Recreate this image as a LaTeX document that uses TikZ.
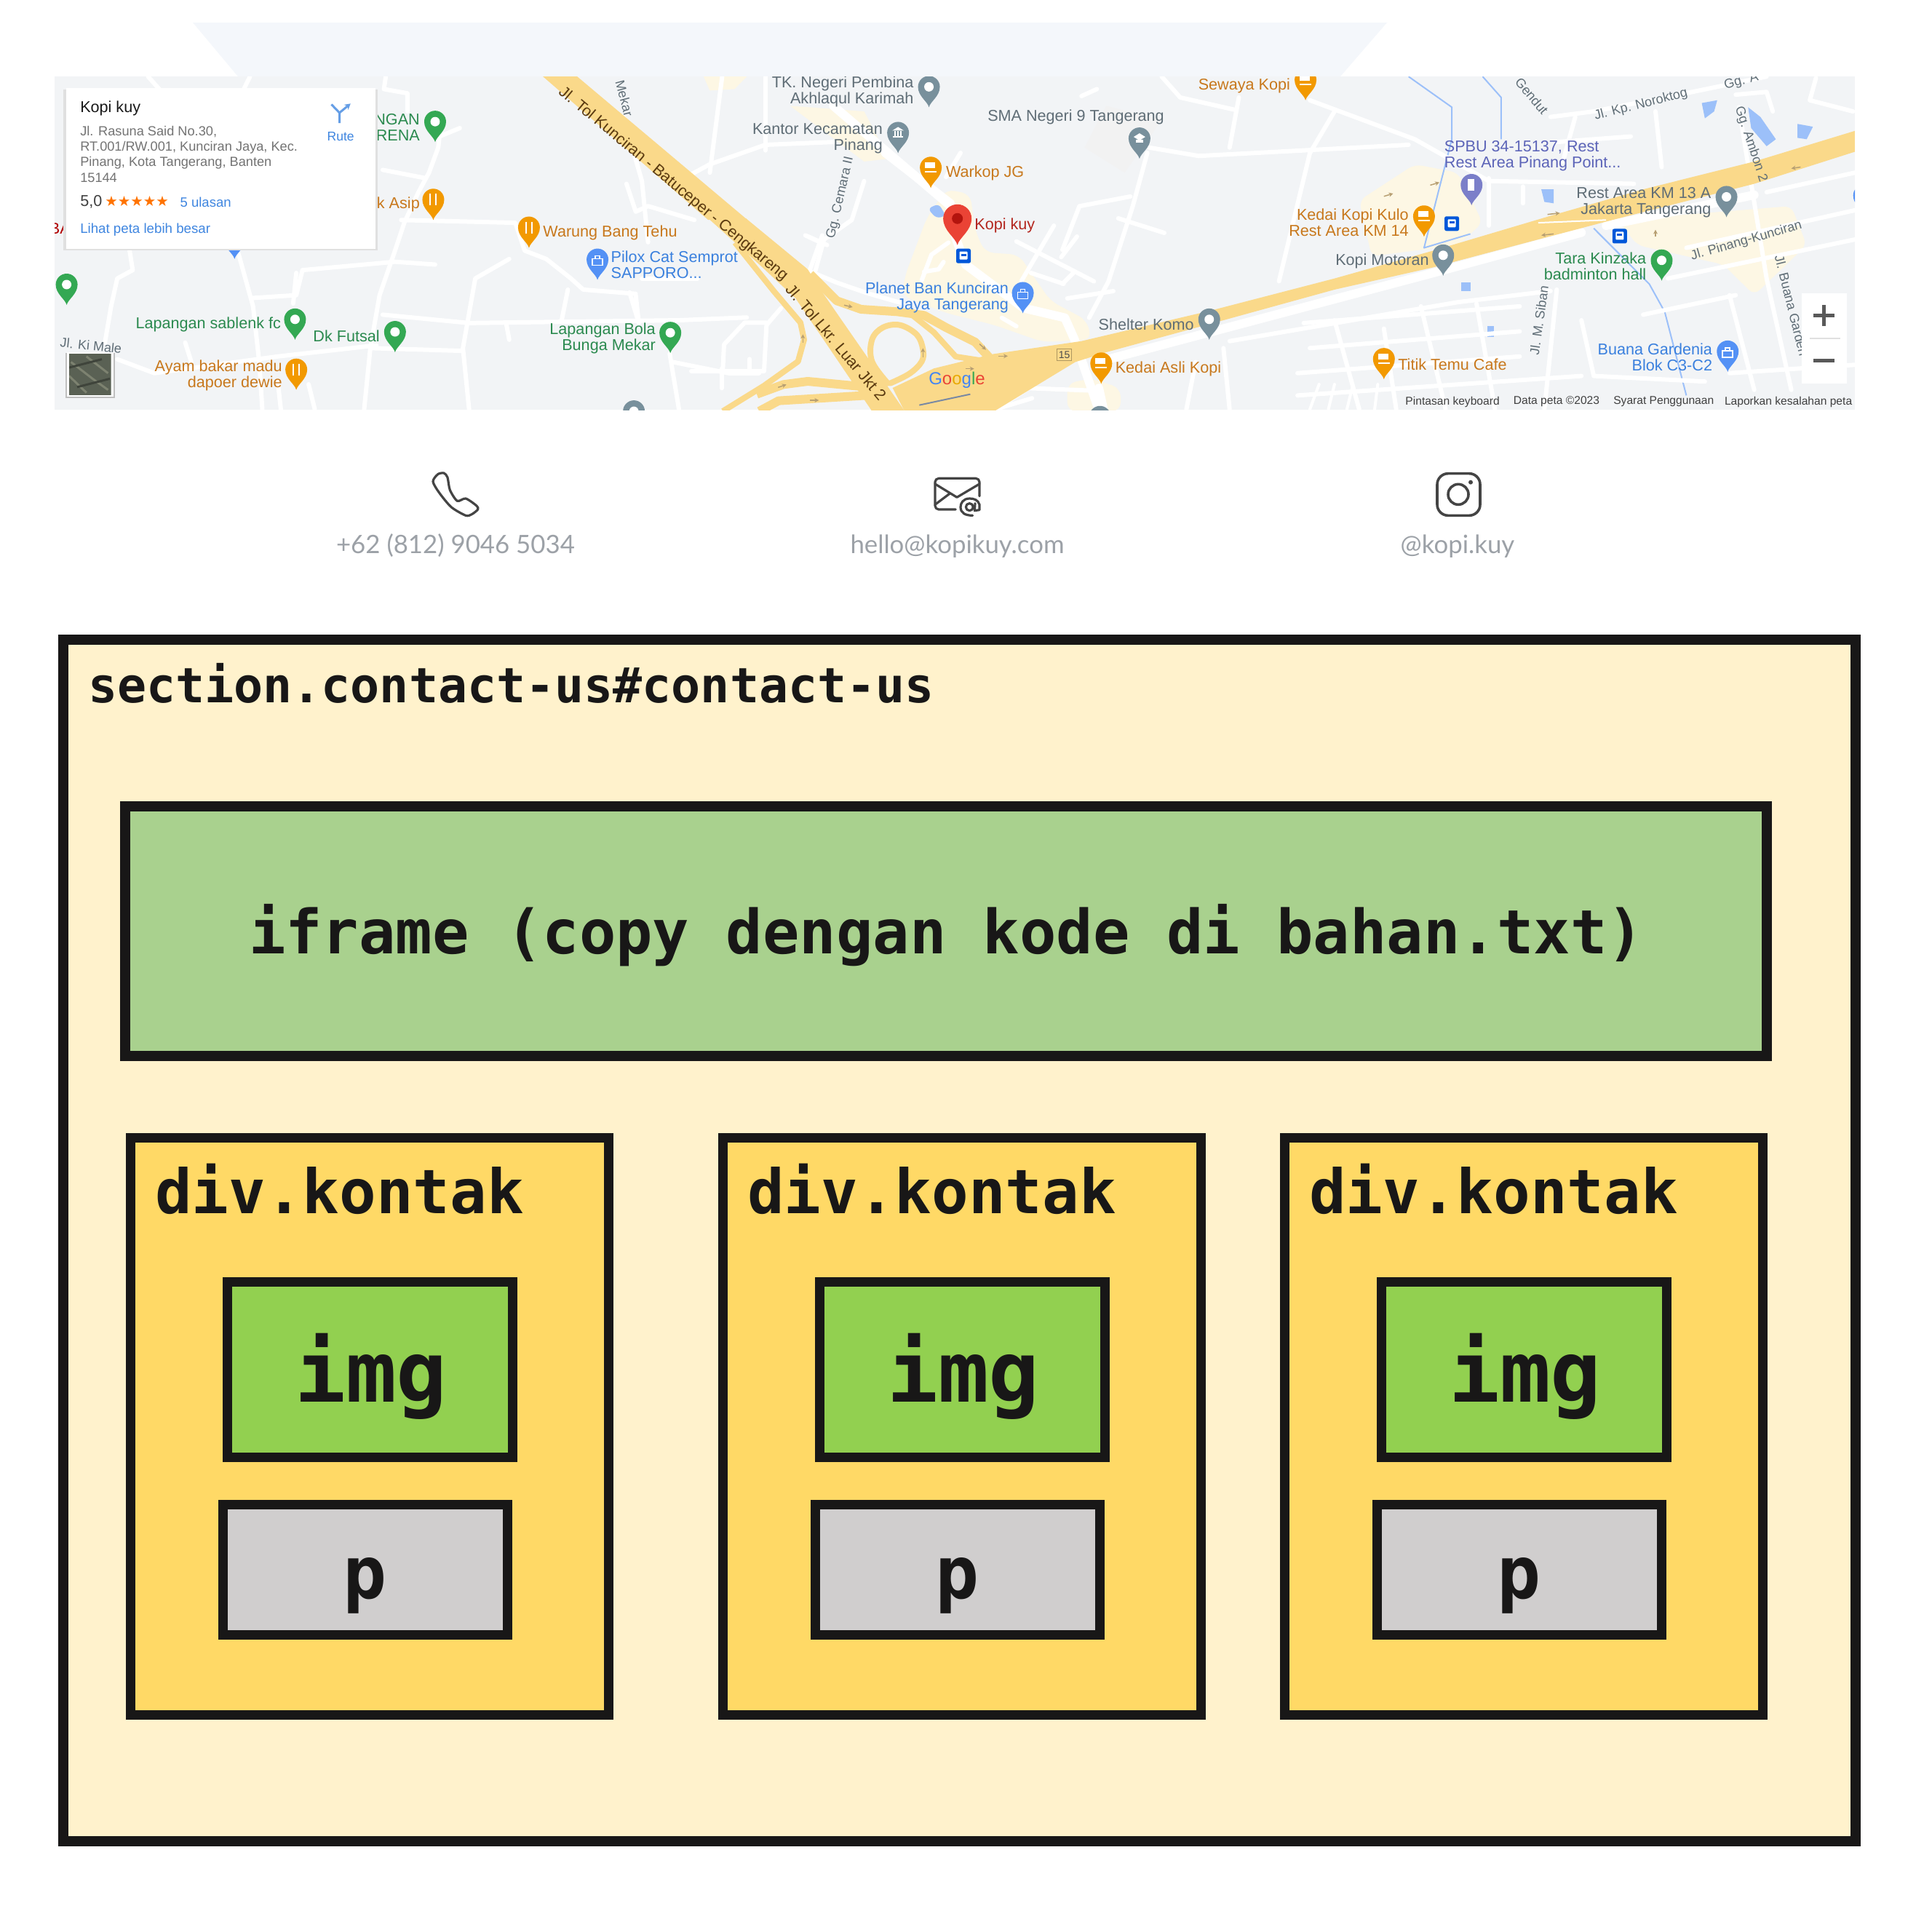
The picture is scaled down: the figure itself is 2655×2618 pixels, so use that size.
\documentclass[tikz,border=0pt]{standalone}
\usepackage{fontspec}
\usetikzlibrary{arrows.meta}
\setmainfont{Liberation Sans}
\newfontfamily\codefont{DejaVu Sans Mono}
\newfontfamily\latofont{Lato}
\newfontfamily\symfont{DejaVu Sans}
\definecolor{ink}{HTML}{181717}
\definecolor{sectionfill}{HTML}{FFF2CC}
\definecolor{iframefill}{HTML}{A9D18E}
\definecolor{divfill}{HTML}{FFD966}
\definecolor{imgfill}{HTML}{92D050}
\definecolor{pfill}{HTML}{D0CECE}
\definecolor{mapbg}{HTML}{F2F4F6}
\definecolor{bandbg}{HTML}{F4F7FB}
\definecolor{cream}{HTML}{FDF7E4}
\definecolor{mway}{HTML}{FAD98A}
\definecolor{flowgray}{HTML}{B79F72}
\definecolor{water}{HTML}{9CC0F9}
\definecolor{pgreen}{HTML}{34A853}
\definecolor{porange}{HTML}{F29900}
\definecolor{pblue}{HTML}{5491F5}
\definecolor{pgray}{HTML}{78909C}
\definecolor{ppurple}{HTML}{7B7FC9}
\definecolor{tgreen}{HTML}{2B8A4F}
\definecolor{torange}{HTML}{C8781C}
\definecolor{tblue}{HTML}{3A80DE}
\definecolor{tgray}{HTML}{5F6D76}
\definecolor{tred}{HTML}{B3261E}
\definecolor{tpurple}{HTML}{5C64B8}
\definecolor{tbrown}{HTML}{5A3A10}
\definecolor{linkblue}{HTML}{3F86E0}
\definecolor{icongray}{HTML}{444444}
\definecolor{contactgray}{HTML}{9CA1A7}
\definecolor{pinred}{HTML}{EA4335}
\definecolor{pindark}{HTML}{B3140E}
\definecolor{gblue}{HTML}{4285F4}
\definecolor{gred}{HTML}{EA4335}
\definecolor{gyellow}{HTML}{E8A800}
\definecolor{ggreen}{HTML}{34A853}
\definecolor{satdark}{HTML}{5A6154}
\definecolor{satlight}{HTML}{7D8270}
\tikzset{
  z1/.style={x=0.8482pt,y=-0.38265pt},
  z2/.style={xshift=1325pt,x=0.8482pt,y=-0.38265pt},
  z7/.style={xshift=1100pt,yshift=-200pt,x=0.33333pt,y=-0.33333pt},
  zt/.style={xshift=950pt,yshift=-300pt,x=0.33333pt,y=-0.33333pt},
  rd/.style={white,line width=6pt,line cap=round,line join=round},
  rdthin/.style={white,line width=4pt,line cap=round,line join=round},
  rdbig/.style={white,line width=12pt,line cap=round,line join=round},
  ramp/.style={mway,line width=12pt,line cap=round,line join=round},
  rampthin/.style={mway,line width=8pt,line cap=round,line join=round},
  river/.style={water,line width=2pt,line join=round},
  flow/.style={-{Stealth[length=6pt,width=6pt]},draw=flowgray,line width=1.5pt},
  lab/.style={inner sep=0pt,outer sep=0pt,font=\fontsize{21.6}{22}\selectfont},
  lr/.style={lab,anchor=east,align=right},
  ll/.style={lab,anchor=west,align=left},
  lc/.style={lab,anchor=center,align=center},
  street/.style={inner sep=0pt,outer sep=0pt,font=\fontsize{18}{19}\selectfont,text=tgray},
  foot/.style={inner sep=0pt,outer sep=0pt,anchor=west,font=\fontsize{15.6}{16}\selectfont,text=black!75},
  code/.style={inner sep=0pt,outer sep=0pt,anchor=base west,text=ink},
  hbox/.style={draw=ink,line width=14pt,inner sep=0pt,outer sep=0pt},
  kbox/.style={draw=ink,line width=13pt,inner sep=0pt,outer sep=0pt},
  contact/.style={inner sep=0pt,outer sep=0pt,anchor=base,text=contactgray,font=\latofont\fontsize{34.8}{38}\selectfont},
  iconline/.style={draw=icongray,line width=3.2pt,line join=round,line cap=round},
}
\newcommand{\glyphdot}{\fill[white] (0,-28) circle (6.5pt);}
\newcommand{\glyphfork}{\draw[white,line width=2pt] (-4,-36)--(-4,-20) (4,-36)--(4,-20);}
\newcommand{\glyphcup}{\fill[white] (-8,-35) rectangle (6,-27); \fill[white] (-8,-23) rectangle (8,-21);}
\newcommand{\glyphbag}{\draw[white,line width=1.6pt] (-7,-29) rectangle (7,-20) (-3,-29) -- (-3,-33) -- (3,-33) -- (3,-29);}
\newcommand{\glyphfuel}{\fill[white] (-5,-36) rectangle (4,-20);}
\newcommand{\glyphschool}{\fill[white] (-8,-30) -- (0,-35) -- (8,-30) -- (0,-25) -- cycle; \fill[white] (-5,-26) rectangle (5,-22);}
\newcommand{\glyphhall}{\fill[white] (-8,-31) -- (0,-36) -- (8,-31) -- cycle; \fill[white] (-7,-23) rectangle (7,-21); \draw[white,line width=2pt] (-4,-30)--(-4,-23) (0,-30)--(0,-23) (4,-30)--(4,-23);}
\newcommand{\mappin}[3]{%
  \begin{scope}[shift={#1},x=1pt,y=-1pt]
    \fill[#2] (0,0) .. controls (-2,-8) and (-15,-15) .. (-15,-28) .. controls (-15,-36.5) and (-8,-43) .. (0,-43) .. controls (8,-43) and (15,-36.5) .. (15,-28) .. controls (15,-15) and (2,-8) .. (0,0) -- cycle;
    \csname glyph#3\endcsname
  \end{scope}}
\newcommand{\redpin}[1]{%
  \begin{scope}[shift={#1},x=1.3pt,y=-1.3pt]
    \fill[pinred] (0,0) .. controls (-2,-8) and (-15,-15) .. (-15,-28) .. controls (-15,-36.5) and (-8,-43) .. (0,-43) .. controls (8,-43) and (15,-36.5) .. (15,-28) .. controls (15,-15) and (2,-8) .. (0,0) -- cycle;
    \fill[pindark] (0,-28) circle (7.5pt);
  \end{scope}}
\newcommand{\busstop}[1]{%
  \begin{scope}[shift={#1},x=1pt,y=-1pt]
    \fill[blue!60!cyan!85!black,rounded corners=2.5pt] (-10,-10) rectangle (10,10);
    \fill[white,rounded corners=1pt] (-5.5,-6) rectangle (5.5,5);
    \fill[blue!60!cyan!85!black] (-3.5,-3) rectangle (3.5,0);
  \end{scope}}
\newcommand{\kontak}[2]{%
  \node[kbox,fill=divfill,minimum width=657pt,minimum height=793pt] (k#1) at (508+#2,1960) {};
  \node[code,font=\codefont\bfseries\fontsize{84.2}{88}\selectfont] (kl#1) at (213+#2,1667) {div.kontak};
  \node[kbox,fill=imgfill,minimum width=392pt,minimum height=241pt] (i#1) at (508.5+#2,1882) {};
  \node[code,anchor=base,font=\codefont\bfseries\fontsize{116}{120}\selectfont] (il#1) at (510+#2,1926) {img};
  \node[kbox,fill=pfill,minimum width=391pt,minimum height=179pt] (p#1) at (502+#2,2157) {};
  \node[code,anchor=base,font=\codefont\bfseries\fontsize{100}{104}\selectfont] (pl#1) at (502+#2,2196) {p};
}
\begin{document}
\begin{tikzpicture}[x=1pt,y=-1pt]
\useasboundingbox (0,0) rectangle (2655,2618);
\fill[white] (0,0) rectangle (2655,2618);

% pale band above the map
\fill[bandbg] (265,31) -- (1906,31) -- (1842,105) -- (327,105) -- cycle;

% ---------- map ----------
\begin{scope}
\clip (75,105) rectangle (2549,563);
\fill[mapbg] (75,105) rectangle (2549,563);

% built-up areas
\begin{scope}[z7]
  \fill[cream,rounded corners=12pt] (430,540) -- (520,300) -- (600,180) -- (700,200) -- (720,350) -- (760,440) -- (900,450) -- (1030,640) -- (1180,720) -- (1200,800) -- (1000,810) -- (800,740) -- (600,690) -- (420,620) -- cycle;
  \fill[cream,rounded corners=12pt] (1100,980) -- (1200,960) -- (1320,1000) -- (1320,1095) -- (1100,1095) -- cycle;
\end{scope}
\begin{scope}[z1]
  \fill[cream] (1140,275) -- (1210,275) -- (1190,320) -- (1150,325) -- cycle;
  \fill[cream] (1280,380) -- (1400,400) -- (1440,570) -- (1400,580) -- cycle;
\end{scope}
\begin{scope}[z2]
  \fill[cream,rounded corners=10pt] (640,720) -- (730,590) -- (800,620) -- (840,800) -- (800,880) -- (660,920) -- cycle;
  \fill[cream,rounded corners=10pt] (1060,790) -- (1340,740) -- (1365,880) -- (1280,1060) -- (1230,950) -- (1090,880) -- cycle;
\end{scope}

% grey building blocks
\begin{scope}[z2]
  \fill[black!5] (195,530) -- (230,380) -- (320,430) -- (260,620) -- cycle;
\end{scope}

% water
\begin{scope}[z2]
  \draw[river] (720,275) -- (790,385) -- (790,500) -- (745,890) -- (820,840);
  \draw[river] (840,275) -- (870,350) -- (870,500);
  \draw[river] (1020,820) -- (1110,1020) -- (1135,1120) -- (1170,1420);
  \fill[water] (1195,370) -- (1220,360) -- (1215,400) -- (1200,425) -- cycle;
  \fill[water] (1270,385) -- (1290,420) -- (1315,500) -- (1300,525) -- (1275,460) -- cycle;
  \fill[water] (1350,445) -- (1375,455) -- (1365,500) -- (1350,495) -- cycle;
  \fill[water] (935,680) -- (955,680) -- (955,730) -- (940,725) -- cycle;
  \fill[water] (805,1015) -- (820,1015) -- (820,1045) -- (805,1045) -- cycle;
  \fill[water] (848,1170) -- (858,1170) -- (858,1210) -- (848,1210) -- cycle;
\end{scope}
\begin{scope}[z7]
  \fill[water,rounded corners=6pt] (525,260) -- (570,240) -- (600,290) -- (560,300) -- cycle;
\end{scope}

% streets, left half
\begin{scope}[z1]
  \draw[rd] (240,275) -- (258,320);
  \draw[rd] (405,275) -- (395,320);
  \draw[rd] (625,275) -- (622,320) -- (660,335) -- (660,400);
  \draw[rd] (745,460) -- (712,490) -- (710,530) -- (695,620) -- (678,690) -- (655,800) -- (640,900) -- (615,1060) -- (600,1250) -- (590,1470);
  \draw[rd] (650,790) -- (835,800) -- (850,900) -- (885,930) -- (925,1000) -- (945,1040) -- (1030,1055);
  \draw[rd] (1010,420) -- (1040,650) -- (1050,870);
  \draw[rd] (1015,660) -- (1030,760) -- (1050,740) -- (1125,790);
  \draw[rd] (385,900) -- (410,1100) -- (420,1300) -- (425,1470);
  \draw[rd] (210,900) -- (215,970) -- (190,1000) -- (180,1100) -- (170,1230);
  \draw[rd] (410,1070) -- (480,1060) -- (490,970) -- (640,940) -- (705,950);
  \draw[rd] (480,980) -- (475,1090);
  \draw[rd] (760,1470) -- (750,1250) -- (770,1000) -- (825,930);
  \draw[rd] (620,1130) -- (760,1160) -- (1100,1150) -- (1210,1140);
  \draw[rd] (920,1040) -- (910,1150);
  \draw[rd] (1020,1050) -- (1035,1160) -- (1030,1060);
  \draw[rd] (1090,1300) -- (1180,1340) -- (1230,1340);
  \draw[rd] (600,1250) -- (750,1260);
  \draw[rd] (190,1290) -- (250,1340) -- (450,1280) -- (610,1240);
  \draw[rd] (450,1370) -- (455,1470);
  \draw[rd] (500,1380) -- (510,1470);
  \draw[rd] (300,1230) -- (310,1300);
  \draw[rd] (1100,650) -- (1150,590) -- (1240,520) -- (1350,510);
  \draw[rd] (1170,275) -- (1150,620);
  \draw[rd] (1240,275) -- (1240,540);
  \draw[rd] (1320,980) -- (1335,860) -- (1380,790) -- (1400,650);
  \draw[rd] (1310,850) -- (1340,880);
  \draw[rd] (620,610) -- (690,640);
  \draw[rd] (820,1160) -- (825,1220);
  \draw[rd] (1100,1470) -- (1085,1270);
  \draw[rd] (1130,1000) -- (1040,1000);
  \draw[rdbig] (1350,380) -- (1450,570) -- (1540,740);
\end{scope}
\begin{scope}[zt]
  \draw[rd] (480,215) -- (600,265) -- (730,310) -- (870,350);
  \draw[rd] (540,70) -- (490,210);
  \draw[rd] (470,70) -- (535,100);
  \draw[rd] (0,630) -- (300,630) -- (310,440) -- (370,370);
  \draw[rd] (125,700) -- (125,620);
  \draw[rd] (130,620) -- (135,520) -- (220,430) -- (310,430);
  \draw[rd] (240,620) -- (240,580);
\end{scope}
\begin{scope}[z7]
  \draw[rdbig] (350,30) -- (620,240) -- (640,380) -- (680,490) -- (920,670) -- (1090,710) -- (1130,800) -- (1230,1090);
  \draw[rd] (500,555) -- (540,450) -- (610,400);
  \draw[rd] (590,480) -- (570,510) -- (510,520);
  \draw[rd] (660,30) -- (600,130);
  \draw[rd] (890,395) -- (1210,560);
  \draw[rd] (1045,330) -- (910,560);
  \draw[rd] (1140,375) -- (1075,460);
  \draw[rd] (950,525) -- (1085,570);
  \draw[rd] (1130,520) -- (1080,570);
  \draw[rd] (1190,710) -- (1270,560) -- (1370,250) -- (1430,30);
  \draw[rd] (1310,300) -- (1500,360);
  \draw[rd] (1150,250) -- (1360,210);
  \draw[rd] (1100,630) -- (1290,600);
  \draw[rd] (1080,430) -- (1150,250);
  \draw[rd] (830,710) -- (890,745);
  \draw[rd] (800,1090) -- (940,1000) -- (1200,1010);
  \draw[rdbig] (1230,1000) -- (1250,1090);
\end{scope}
% streets, right half
\begin{scope}[z2]
  \draw[rd] (320,275) -- (350,350) -- (440,395);
  \draw[rd] (215,320) -- (190,345);
  \draw[rd] (560,360) -- (730,500) -- (850,650) -- (1085,660);
  \draw[rd] (300,530) -- (380,560) -- (720,520);
  \draw[rd] (445,350) -- (430,530);
  \draw[rd] (600,400) -- (560,550) -- (510,1010);
  \draw[rd] (950,420) -- (1020,400) -- (1180,330) -- (1300,275);
  \draw[rd] (990,420) -- (970,580);
  \draw[rd] (1080,490) -- (960,510);
  \draw[rd] (1120,400) -- (1130,600);
  \draw[rd] (1255,385) -- (1300,1000) -- (1340,1400);
  \draw[rd] (1250,340) -- (1300,330) -- (1310,400);
  \draw[rd] (1380,280) -- (1370,360) -- (1440,400);
  \draw[rd] (905,670) -- (905,730);
  \draw[rd] (850,810) -- (850,640);
  \draw[rdbig] (225,1295) -- (760,980) -- (1000,835);
  \draw[rdbig] (1040,810) -- (1280,700);
  \draw[rd] (1170,890) -- (1443,755);
  \draw[rd] (1300,690) -- (1443,620);
  \draw[rd] (1140,1000) -- (1443,860);
  \draw[rd] (430,1225) -- (800,1085) -- (950,1045);
  \draw[rd] (640,1470) -- (600,1150);
  \draw[rd] (700,1470) -- (680,1180);
  \draw[rd] (780,1470) -- (740,1100);
  \draw[rd] (860,1470) -- (830,1090);
  \draw[rd] (550,1160) -- (900,1100);
  \draw[rd] (560,1250) -- (900,1190);
  \draw[rd] (540,1340) -- (900,1280);
  \draw[rd] (540,1420) -- (1000,1350);
  \draw[rdthin] (560,1470) -- (575,1380);
  \draw[rdthin] (590,1470) -- (600,1380);
  \draw[rdthin] (620,1470) -- (630,1380);
  \draw[rdthin] (665,1470) -- (670,1380);
  \draw[rd] (940,1470) -- (960,1040);
  \draw[rd] (1000,1150) -- (1020,1350) -- (1200,1370);
  \draw[rd] (1100,1130) -- (1250,1060);
  \draw[rd] (1240,1340) -- (1443,1310);
  \draw[rd] (1240,1060) -- (1280,1400);
  \draw[rd] (430,1470) -- (420,1250);
  \draw[rd] (360,1470) -- (375,1300);
  \draw[rd] (110,1430) -- (50,1470);
\end{scope}

% motorways
\fill[mway] (746,105) -- (793,105) -- (1027,302) -- (973,302) -- cycle;
\begin{scope}[zt]
  \fill[mway] (70,0) -- (225,0) -- (480,210) -- (530,290) -- (880,795) -- (745,795) -- (430,330) -- (280,190) -- cycle;
  \draw[rampthin,line cap=butt] (180,100) -- (340,300) -- (450,430) -- (465,500) -- (440,590) -- (300,690) -- (130,795);
  \draw[ramp,line cap=butt] (490,230) -- (600,340) -- (700,375) -- (850,385) -- (960,400) -- (1050,450) -- (1170,510) -- (1225,570) -- (1230,640) -- (1200,720) -- (1130,795);
  \draw[rampthin] (900,390) -- (1000,470) -- (1090,570) -- (1220,590);
  \draw[rampthin] plot[smooth,tension=0.6] coordinates {(810,680) (745,590) (745,500) (790,450) (860,440) (930,480) (955,540) (950,590) (900,640) (820,680)};
  \draw[ramp,line cap=butt] (270,725) -- (380,685) -- (480,672) -- (720,695);
  \draw[ramp,line cap=butt] (280,795) -- (360,752) -- (720,730);
\end{scope}
\begin{scope}[z2]
  \fill[mway] (190,1225) -- (400,1115) -- (600,1000) -- (760,900) -- (950,775) -- (1100,680) -- (1280,580) -- (1443,470) -- (1443,545) -- (1280,660) -- (1050,790) -- (930,860) -- (760,960) -- (600,1040) -- (420,1150) -- (230,1265) -- (180,1300) -- (50,1475) -- (-97,1475) -- (-116,1393) -- (-49,1323) -- (45,1272) -- cycle;
  \draw[white,line width=2pt] (930,800) -- (1040,790);
\end{scope}
\begin{scope}[zt]
  \draw[flow] (630,358) -- (665,366);
  \draw[flow] (460,512) -- (460,478);
  \draw[flow] (955,572) -- (955,535);
  \draw[flow] (1188,518) -- (1215,542);
  \draw[flow] (1130,620) -- (1166,620);
  \draw[flow] (358,697) -- (392,685);
  \draw[flow] (490,750) -- (526,750);
  \draw[black!25!water!60!gray,line width=2pt] (940,770) -- (1150,725);
\end{scope}
\begin{scope}[z7]
  \draw[flow] (815,868) -- (855,868);
  \fill[mway,draw=black!30!mway,line width=1pt] (1058,838) rectangle (1118,886);
  \node[inner sep=0pt,font=\fontsize{14}{15}\selectfont,text=black!70] (shield) at (1088,862) {15};
\end{scope}
\begin{scope}[z2]
  \draw[flow] (680,705) -- (695,695);
  \draw[flow] (755,665) -- (770,655);
  \draw[flow] (945,770) -- (965,765);
  \draw[flow] (955,840) -- (935,845);
  \draw[flow] (1355,600) -- (1340,605);
  \draw[flow] (1120,850) -- (1120,825);
\end{scope}

% street names
\node[street,rotate=-39.8,text=tbrown,font=\fontsize{21.6}{22}\selectfont] (tollone) at (925,253) {Jl. Tol Kunciran - Batuceper - Cengkareng};
\node[street,rotate=-49.8,text=tbrown,font=\fontsize{21.6}{22}\selectfont] (tolltwo) at (1149,470) {Jl. Tol Lkr. Luar Jkt 2};
\node[street,rotate=-75] (mekar) at (858,135) {Mekar};
\node[street,rotate=77] (cemara) at (1155,272) {Gg. Cemara II};
\node[street,rotate=14.4] (noroktog) at (2255,144) {Jl. Kp. Noroktog};
\node[street,rotate=-50] (gendut) at (2105,132) {Gendut};
\node[street,rotate=15] (gga) at (2393,112) {Gg. A};
\node[street,rotate=-71.6] (ambon) at (2406,198) {Gg. Ambon 2};
\node[street,rotate=16] (pinang) at (2400,331) {Jl. Pinang-Kunciran};
\node[street,rotate=-76] (buana) at (2462,420) {Jl. Buana Garden};
\node[street,rotate=82] (siban) at (2115,440) {Jl. M. Siban};
\node[street,rotate=-6] (kimale) at (125,475) {Jl. Ki Male};

% pins and labels, left part
\begin{scope}[z1]
  \mappin{(380,930)}{pblue}{dot}
  \mappin{(705,510)}{pgreen}{dot}
  \mappin{(702,790)}{porange}{fork}
  \mappin{(857,890)}{porange}{fork}
  \mappin{(968,1005)}{pblue}{bag}
  \mappin{(1505,385)}{pgray}{dot}
  \mappin{(1455,550)}{pgray}{hall}
  \mappin{(1508,675)}{porange}{cup}
  \mappin{(108,1095)}{pgreen}{dot}
  \mappin{(478,1220)}{pgreen}{dot}
  \mappin{(640,1265)}{pgreen}{dot}
  \mappin{(480,1400)}{porange}{fork}
  \mappin{(1086,1268)}{pgreen}{dot}
  \mappin{(1027,1550)}{pgray}{dot}
  \node[lr,text=tgreen] (arena) at (680,456) {NGAN\\ARENA};
  \node[lr,text=torange] (asip) at (680,735) {k Asip};
  \node[ll,text=red!70!black] (ba) at (80,820) {BA};
  \node[lr,text=tgray] (tk) at (1480,328) {TK. Negeri Pembina\\Akhlaqul Karimah};
  \node[lr,text=tgray] (kantor) at (1430,497) {Kantor Kecamatan\\Pinang};
  \node[ll,text=torange] (bangtehu) at (880,835) {Warung Bang Tehu};
  \node[ll,text=tblue] (pilox) at (990,950) {Pilox Cat Semprot\\SAPPORO...};
  \node[lr,text=tgreen] (sablenk) at (455,1165) {Lapangan sablenk fc};
  \node[lr,text=tgreen] (futsal) at (615,1208) {Dk Futsal};
  \node[lr,text=tgreen] (bola) at (1062,1215) {Lapangan Bola\\Bunga Mekar};
  \node[lr,text=torange] (ayam) at (457,1347) {Ayam bakar madu\\dapoer dewie};
\end{scope}

% pins and labels, middle and right part
\begin{scope}[z2]
  \mappin{(553,360)}{porange}{cup}
  \mappin{(284,570)}{pgray}{school}
  \mappin{(822,737)}{ppurple}{fuel}
  \mappin{(745,850)}{porange}{cup}
  \mappin{(776,990)}{pgray}{dot}
  \mappin{(1235,780)}{pgray}{dot}
  \mappin{(1130,1008)}{pgreen}{dot}
  \mappin{(1458,775)}{pblue}{dot}
  \mappin{(95,1125)}{pblue}{bag}
  \mappin{(397,1220)}{pgray}{dot}
  \mappin{(222,1378)}{porange}{cup}
  \mappin{(680,1362)}{porange}{cup}
  \mappin{(1237,1335)}{pblue}{bag}
  \mappin{(220,1570)}{pgray}{dot}
  \busstop{(790,803)}
  \busstop{(1062,848)}
  \node[lr,text=torange] (sewaya) at (528,308) {Sewaya Kopi};
  \node[ll,text=tgray] (sma) at (38,420) {SMA Negeri 9 Tangerang};
  \node[ll,text=tpurple] (spbu) at (778,560) {SPBU 34-15137, Rest\\Rest Area Pinang Point...};
  \node[lr,text=torange] (kulo) at (720,798) {Kedai Kopi Kulo\\Rest Area KM 14};
  \node[lr,text=tgray] (km13) at (1210,728) {Rest Area KM 13 A\\Jakarta Tangerang};
  \node[lr,text=tgray] (motoran) at (753,938) {Kopi Motoran};
  \node[lr,text=tgreen] (tara) at (1105,955) {Tara Kinzaka\\badminton hall};
  \node[lr,text=tgray] (shelter) at (372,1165) {Shelter Komo};
  \node[ll,text=torange] (asli) at (245,1325) {Kedai Asli Kopi};
  \node[ll,text=torange] (titik) at (703,1310) {Titik Temu Cafe};
  \node[lr,text=tblue] (gardenia) at (1212,1283) {Buana Gardenia\\Blok C3-C2};
\end{scope}
\begin{scope}[z7]
  \node[ll,text=torange] (warkop) at (600,115) {Warkop JG};
  \node[lr,text=tblue] (planet) at (858,628) {Planet Ban Kunciran\\Jaya Tangerang};
  \node[ll,text=tred] (kopikuy) at (718,330) {Kopi kuy};
  \busstop{(672,455)}
  \redpin{(647,410)}
  \node[inner sep=0pt,font=\fontsize{24}{25}\selectfont] (google) at (645,968) {\textcolor{gblue}{G}\textcolor{gred}{o}\textcolor{gyellow}{o}\textcolor{gblue}{g}\textcolor{ggreen}{l}\textcolor{gred}{e}};
\end{scope}

% satellite thumbnail
\begin{scope}[z1]
  \fill[black!25] (106,1268) rectangle (186,1430);
  \fill[white] (108,1264) rectangle (184,1424);
  \begin{scope}
    \clip (112,1270) rectangle (180,1418);
    \fill[satdark] (112,1270) rectangle (180,1418);
    \draw[satlight,line width=3pt] (115,1300) -- (150,1360) -- (175,1400) (112,1350) -- (140,1410) (140,1280) -- (175,1340);
    \draw[satdark!70!black,line width=3pt] (112,1320) -- (165,1290) (125,1390) -- (178,1360);
  \end{scope}
\end{scope}

% info card
\begin{scope}[z1]
  \fill[black!12] (103,322) rectangle (612,900);
  \fill[white] (107,315) rectangle (608,893);
  \node[lab,anchor=west,text=black!90] (cardtitle) at (130,388) {Kopi kuy};
  \node[lab,anchor=north west,align=left,text=black!55,font=\fontsize{18.2}{21.4}\selectfont] (cardaddr) at (130,452) {Jl. Rasuna Said No.30,\\RT.001/RW.001, Kunciran Jaya, Kec.\\Pinang, Kota Tangerang, Banten\\15144};
  \node[lab,anchor=west,text=black!75] (cardscore) at (130,725) {5,0};
  \node[inner sep=0pt,anchor=west,text=orange!90!red,font=\symfont\fontsize{19.5}{20}\selectfont] (cardstars) at (170,722) {★★★★★};
  \node[lab,anchor=west,text=linkblue,font=\fontsize{18.5}{19}\selectfont] (cardrev) at (292,725) {5 ulasan};
  \node[lab,anchor=west,text=linkblue,font=\fontsize{18.7}{19}\selectfont] (cardlink) at (130,825) {Lihat peta lebih besar};
  \node[lab,anchor=center,text=linkblue,font=\fontsize{17.5}{19}\selectfont] (cardrute) at (552,490) {Rute};
  \draw[linkblue!80,line width=3pt] (550,442) -- (550,405) -- (537,375);
  \draw[linkblue!80,line width=3pt,-{Stealth[length=8pt,width=9pt]}] (550,405) -- (568,372);
\end{scope}

% zoom control and footer
\begin{scope}[z2]
  \fill[white] (1357,1052) rectangle (1430,1378);
  \draw[black!12,line width=1.5pt] (1370,1215) -- (1420,1215);
  \draw[black!65,line width=5pt] (1376,1132) -- (1410,1132) (1393,1095) -- (1393,1170);
  \draw[black!65,line width=5pt] (1376,1296) -- (1410,1296);
  \node[foot] (f1) at (715,1443) {Pintasan keyboard};
  \node[foot] (f2) at (890,1443) {Data peta ©2023};
  \node[foot] (f3) at (1052,1443) {Syarat Penggunaan};
  \node[foot] (f4) at (1232,1443) {Laporkan kesalahan peta};
\end{scope}
\end{scope}

% ---------- contact row ----------
\node[contact] (tel) at (626,760) {+62 (812) 9046 5034};
\node[contact] (mail) at (1315.5,760) {hello@kopikuy.com};
\node[contact] (insta) at (2003,760) {@kopi.kuy};
\begin{scope}[xshift=560pt,yshift=-630pt,x=0.33333pt,y=-0.33333pt]
  \draw[iconline] plot[smooth cycle,tension=0.45] coordinates {(105,95) (125,65) (150,60) (165,78) (175,130) (205,175) (240,165) (285,195) (290,210) (265,230) (240,235) (180,200) (130,140)};
\end{scope}
\begin{scope}[xshift=1270pt,yshift=-630pt,x=0.33333pt,y=-0.33333pt]
  \draw[iconline,rounded corners=5pt] (130,210) -- (45,210) -- (45,82) -- (228,82) -- (228,155);
  \draw[iconline] (45,105) -- (135,160) -- (228,105);
  \draw[iconline] (45,190) -- (105,145);
  \draw[iconline] (187,200) circle (5pt);
  \draw[iconline] (210,185) -- (208,215) -- (228,212) -- (228,190) .. controls (222,170) and (205,165) .. (187,165) .. controls (160,165) and (150,185) .. (150,200) .. controls (150,225) and (170,235) .. (200,235);
\end{scope}
\begin{scope}[xshift=1960pt,yshift=-630pt,x=0.33333pt,y=-0.33333pt]
  \draw[iconline,line width=3.6pt,rounded corners=15pt] (45,62) rectangle (222,235);
  \draw[iconline,line width=3.6pt] (132,148) circle (14pt);
  \fill[icongray] (183,98) circle (3pt);
\end{scope}

% ---------- structure diagram ----------
\node[hbox,fill=sectionfill,minimum width=2463pt,minimum height=1651pt] (section) at (1318.5,1704.5) {};
\node[code,font=\codefont\bfseries\fontsize{66.6}{70}\selectfont] (sectionlabel) at (121,965) {section.contact-us\#contact-us};
\node[hbox,fill=iframefill,minimum width=2256pt,minimum height=343pt] (iframe) at (1300,1279.5) {};
\node[code,font=\codefont\bfseries\fontsize{83.8}{88}\selectfont] (iframelabel) at (342,1310) {iframe (copy dengan kode di bahan.txt)};
\kontak{a}{0}
\kontak{b}{814}
\kontak{c}{1586}
\end{tikzpicture}
\end{document}
